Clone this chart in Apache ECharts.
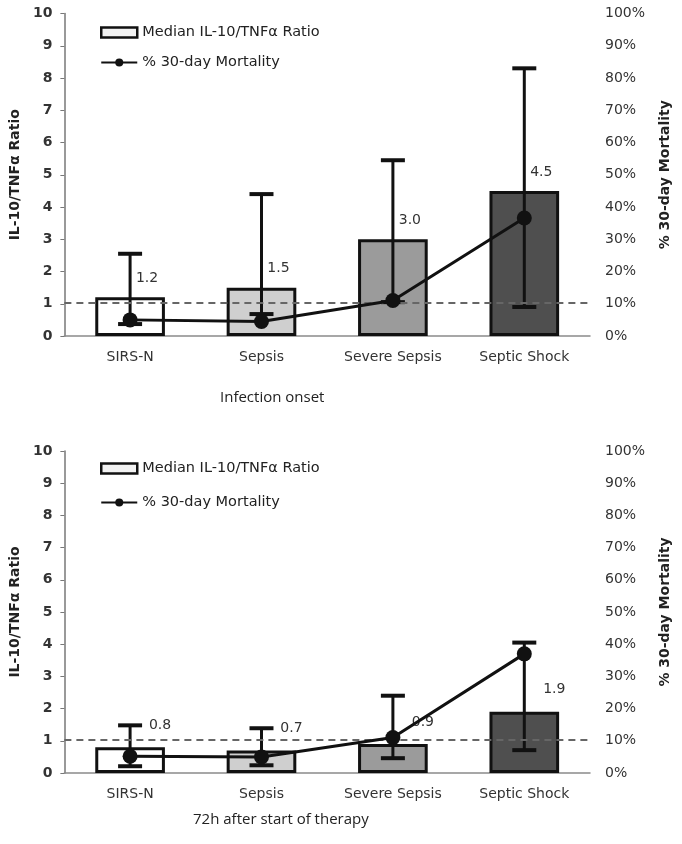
<!DOCTYPE html>
<html>
<head>
<meta charset="utf-8">
<script src="https://cdn.jsdelivr.net/npm/echarts@6/dist/echarts.min.js"></script>
<style>html,body{margin:0;padding:0;background:#fff;}#c{width:682px;height:844px;}</style>
</head>
<body>
<div id="c"></div>
<script>
const categories = ['SIRS-N', 'Sepsis', 'Severe Sepsis', 'Septic Shock'];
const barColors = ['#ffffff', '#cfcfcf', '#9b9b9b', '#4f4f4f'];

const onsetRatio = [1.2, 1.5, 3.0, 4.5];
const onsetLow = [0.37, 0.68, 1.05, 0.9];
const onsetHigh = [2.55, 4.4, 5.45, 8.3];
const onsetMortality = [5, 4.5, 11, 36.6];

const therapyRatio = [0.8, 0.7, 0.9, 1.9];
const therapyLow = [0.21, 0.24, 0.46, 0.71];
const therapyHigh = [1.48, 1.39, 2.4, 4.05];
const therapyMortality = [5.2, 5, 11, 37];

const referenceRatio = 1.04;
const panelTitles = ['Infection onset', '72h after start of therapy'];
const ratioName = 'Median IL-10/TNF\u03b1 Ratio';
const mortName = '% 30-day Mortality';

const chart = echarts.init(document.getElementById('c'));
const FONT = 'DejaVu Sans';

function errRender(params, api) {
  const x = api.value(0), lo = api.value(1), hi = api.value(2);
  const pLo = api.coord([x, lo]), pHi = api.coord([x, hi]);
  const hw = 12;
  const st = {stroke: '#111', lineWidth: 3};
  const cap = {stroke: '#111', lineWidth: 4};
  return {type: 'group', children: [
    {type: 'line', shape: {x1: pLo[0], y1: pLo[1], x2: pHi[0], y2: pHi[1]}, style: st},
    {type: 'line', shape: {x1: pHi[0] - hw, y1: pHi[1], x2: pHi[0] + hw, y2: pHi[1]}, style: cap},
    {type: 'line', shape: {x1: pLo[0] - hw, y1: pLo[1], x2: pLo[0] + hw, y2: pLo[1]}, style: cap}
  ]};
}

const grids = [
  {left: 62, width: 528, top: 13.5, height: 322.5},
  {left: 62, width: 528, top: 451, height: 322}
];
const panels = [
  {ratio: onsetRatio, low: onsetLow, high: onsetHigh, mort: onsetMortality, labelOffset: [17, -7]},
  {ratio: therapyRatio, low: therapyLow, high: therapyHigh, mort: therapyMortality, labelOffset: [30, -10]}
];

const xAxis = [], yAxis = [], series = [], legend = [];
panels.forEach((p, k) => {
  xAxis.push({
    type: 'category', gridIndex: k, data: categories,
    axisLine: {lineStyle: {color: '#8a8a8a', width: 1.5}},
    axisTick: {show: false},
    axisLabel: {fontFamily: FONT, fontSize: 14, color: '#333', margin: 14}
  });
  yAxis.push({
    type: 'value', gridIndex: k, min: 0, max: 10, interval: 1,
    name: 'IL-10/TNF\u03b1 Ratio', nameLocation: 'middle', nameGap: 40,
    nameTextStyle: {fontFamily: FONT, fontSize: 14, fontWeight: 'bold', color: '#222'},
    axisLine: {show: true, lineStyle: {color: '#777', width: 1.5}},
    axisTick: {show: true, length: 4, lineStyle: {color: '#777'}},
    splitLine: {show: false},
    axisLabel: {fontFamily: FONT, fontSize: 14, fontWeight: 'bold', color: '#333', margin: 12}
  });
  yAxis.push({
    type: 'value', gridIndex: k, min: 0, max: 100, interval: 10, position: 'right',
    name: '% 30-day Mortality', nameLocation: 'middle', nameGap: 68, nameRotate: 90,
    nameTextStyle: {fontFamily: FONT, fontSize: 14, fontWeight: 'bold', color: '#222'},
    axisLine: {show: false}, axisTick: {show: false}, splitLine: {show: false},
    axisLabel: {fontFamily: FONT, fontSize: 14, color: '#333', margin: 15, formatter: '{value}%'}
  });
  series.push({
    name: ratioName, type: 'bar', xAxisIndex: k, yAxisIndex: 2 * k, barWidth: '53%',
    itemStyle: {color: '#eeeeee', borderColor: '#111', borderWidth: 3},
    data: p.ratio.map((v, i) => ({value: v, itemStyle: {color: barColors[i]}})),
    label: {show: true, position: 'top', offset: p.labelOffset, fontFamily: FONT, fontSize: 14, color: '#333',
      formatter: (d) => d.value.toFixed(1)},
    markLine: {silent: true, symbol: 'none', label: {show: false},
      lineStyle: {color: '#666', type: [7, 5], width: 2},
      data: [{yAxis: referenceRatio}]},
    z: 2
  });
  series.push({
    type: 'custom', xAxisIndex: k, yAxisIndex: 2 * k, renderItem: errRender,
    encode: {x: 0, y: [1, 2]},
    data: categories.map((c, i) => [i, p.low[i], p.high[i]]), z: 4
  });
  series.push({
    name: mortName, type: 'line', xAxisIndex: k, yAxisIndex: 2 * k + 1,
    data: p.mort, symbol: 'circle', symbolSize: 15,
    lineStyle: {color: '#111', width: 3}, itemStyle: {color: '#111'}, z: 5
  });
  legend.push({
    orient: 'vertical', left: 95, top: k === 0 ? 20 : 456, itemGap: k === 0 ? 15 : 19,
    itemWidth: 36, itemHeight: 10,
    textStyle: {fontFamily: FONT, fontSize: 14.5, color: '#222'},
    data: [
      {name: ratioName, icon: 'rect', itemStyle: {color: '#f2f2f2', borderColor: '#111', borderWidth: 2.5}},
      {name: mortName}
    ]
  });
});

chart.setOption({
  animation: false,
  grid: grids, xAxis: xAxis, yAxis: yAxis, series: series, legend: legend,
  graphic: [
    {type: 'text', left: 220, top: 390, style: {text: panelTitles[0], font: '15px "Open Sans"', fill: '#222'}},
    {type: 'text', left: 193, top: 812, style: {text: panelTitles[1], font: '15px "Open Sans"', fill: '#222'}}
  ]
});
</script>
</body>
</html>
